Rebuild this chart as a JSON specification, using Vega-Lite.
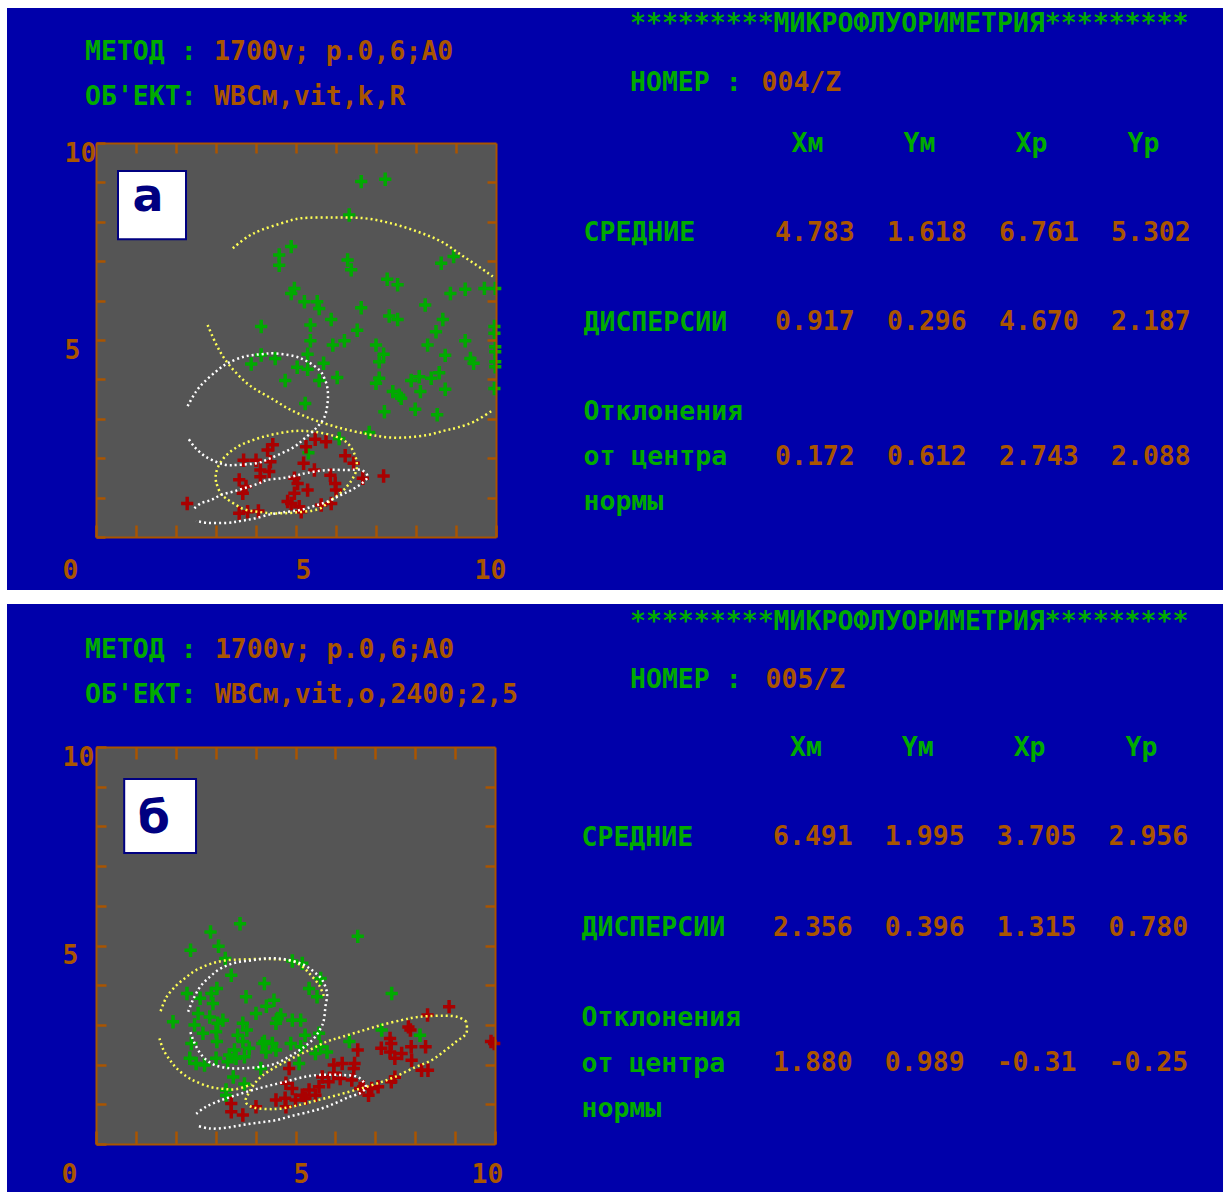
{
  "$schema": "https://vega.github.io/schema/vega-lite/v6.json",
  "background": "#FFFFFF",
  "padding": {"left": 6, "top": 8, "right": 2, "bottom": 0},
  "config": {"view": {"stroke": null}},
  "datasets": {
    "tab_a": [
      {"stat": "СРЕДНИЕ", "var": "Xм", "value": "4.783"},
      {"stat": "СРЕДНИЕ", "var": "Yм", "value": "1.618"},
      {"stat": "СРЕДНИЕ", "var": "Xр", "value": "6.761"},
      {"stat": "СРЕДНИЕ", "var": "Yр", "value": "5.302"},
      {"stat": "ДИСПЕРСИИ", "var": "Xм", "value": "0.917"},
      {"stat": "ДИСПЕРСИИ", "var": "Yм", "value": "0.296"},
      {"stat": "ДИСПЕРСИИ", "var": "Xр", "value": "4.670"},
      {"stat": "ДИСПЕРСИИ", "var": "Yр", "value": "2.187"},
      {"stat": "Отклонения от центра нормы", "var": "Xм", "value": "0.172"},
      {"stat": "Отклонения от центра нормы", "var": "Yм", "value": "0.612"},
      {"stat": "Отклонения от центра нормы", "var": "Xр", "value": "2.743"},
      {"stat": "Отклонения от центра нормы", "var": "Yр", "value": "2.088"}
    ],
    "tab_b": [
      {"stat": "СРЕДНИЕ", "var": "Xм", "value": "6.491"},
      {"stat": "СРЕДНИЕ", "var": "Yм", "value": "1.995"},
      {"stat": "СРЕДНИЕ", "var": "Xр", "value": "3.705"},
      {"stat": "СРЕДНИЕ", "var": "Yр", "value": "2.956"},
      {"stat": "ДИСПЕРСИИ", "var": "Xм", "value": "2.356"},
      {"stat": "ДИСПЕРСИИ", "var": "Yм", "value": "0.396"},
      {"stat": "ДИСПЕРСИИ", "var": "Xр", "value": "1.315"},
      {"stat": "ДИСПЕРСИИ", "var": "Yр", "value": "0.780"},
      {"stat": "Отклонения от центра нормы", "var": "Xм", "value": "1.880"},
      {"stat": "Отклонения от центра нормы", "var": "Yм", "value": "0.989"},
      {"stat": "Отклонения от центра нормы", "var": "Xр", "value": "-0.31"},
      {"stat": "Отклонения от центра нормы", "var": "Yр", "value": "-0.25"}
    ],
    "pts_a": [
      {"class":"A","x":6.63,"y":9.02},{"class":"A","x":7.23,"y":9.08},{"class":"A","x":6.33,"y":8.17},{"class":"A","x":4.88,"y":7.37},
      {"class":"A","x":4.58,"y":7.16},{"class":"A","x":4.58,"y":6.9},{"class":"A","x":6.29,"y":7.03},{"class":"A","x":6.38,"y":6.78},
      {"class":"A","x":8.63,"y":6.95},{"class":"A","x":8.94,"y":7.12},{"class":"A","x":7.28,"y":6.54},{"class":"A","x":7.54,"y":6.4},
      {"class":"A","x":4.96,"y":6.31},{"class":"A","x":4.88,"y":6.18},{"class":"A","x":5.21,"y":5.97},{"class":"A","x":5.53,"y":5.97},
      {"class":"A","x":5.58,"y":5.8},{"class":"A","x":6.63,"y":5.82},{"class":"A","x":8.23,"y":5.89},{"class":"A","x":8.86,"y":6.18},
      {"class":"A","x":9.23,"y":6.29},{"class":"A","x":9.71,"y":6.31},{"class":"A","x":9.98,"y":6.31},{"class":"A","x":4.13,"y":5.34},
      {"class":"A","x":5.36,"y":5.38},{"class":"A","x":5.88,"y":5.52},{"class":"A","x":7.33,"y":5.61},{"class":"A","x":7.54,"y":5.52},
      {"class":"A","x":8.67,"y":5.52},{"class":"A","x":8.5,"y":5.21},{"class":"A","x":6.53,"y":5.25},{"class":"A","x":6.21,"y":4.98},
      {"class":"A","x":5.92,"y":4.87},{"class":"A","x":5.36,"y":4.98},{"class":"A","x":8.29,"y":4.87},{"class":"A","x":9.23,"y":4.98},
      {"class":"A","x":7.0,"y":4.87},{"class":"A","x":7.19,"y":4.64},{"class":"A","x":8.73,"y":4.61},{"class":"A","x":9.36,"y":4.53},
      {"class":"A","x":9.44,"y":4.41},{"class":"A","x":4.13,"y":4.62},{"class":"A","x":4.48,"y":4.53},{"class":"A","x":3.88,"y":4.39},
      {"class":"A","x":5.29,"y":4.64},{"class":"A","x":5.03,"y":4.31},{"class":"A","x":5.29,"y":4.26},{"class":"A","x":5.69,"y":4.41},
      {"class":"A","x":7.08,"y":4.45},{"class":"A","x":7.08,"y":4.03},{"class":"A","x":7.0,"y":3.9},{"class":"A","x":6.03,"y":4.05},
      {"class":"A","x":5.58,"y":3.97},{"class":"A","x":4.73,"y":3.97},{"class":"A","x":7.88,"y":3.97},{"class":"A","x":8.08,"y":4.07},
      {"class":"A","x":8.38,"y":4.03},{"class":"A","x":8.58,"y":4.17},{"class":"A","x":8.11,"y":3.69},{"class":"A","x":8.73,"y":3.75},
      {"class":"A","x":7.42,"y":3.69},{"class":"A","x":7.58,"y":3.6},{"class":"A","x":7.63,"y":3.52},{"class":"A","x":9.96,"y":5.34},
      {"class":"A","x":9.96,"y":5.17},{"class":"A","x":9.98,"y":4.83},{"class":"A","x":9.98,"y":4.7},{"class":"A","x":9.98,"y":4.45},
      {"class":"A","x":9.98,"y":4.32},{"class":"A","x":9.96,"y":3.77},{"class":"A","x":5.23,"y":3.39},{"class":"A","x":7.21,"y":3.18},
      {"class":"A","x":7.98,"y":3.24},{"class":"A","x":8.53,"y":3.1},{"class":"A","x":6.83,"y":2.65},{"class":"A","x":6.08,"y":2.5},
      {"class":"A","x":5.31,"y":2.14},
      {"class":"B","x":2.28,"y":0.85},{"class":"B","x":3.69,"y":1.95},{"class":"B","x":4.0,"y":1.95},{"class":"B","x":4.29,"y":2.21},
      {"class":"B","x":4.42,"y":2.34},{"class":"B","x":4.36,"y":1.91},{"class":"B","x":4.11,"y":1.7},{"class":"B","x":4.33,"y":1.66},
      {"class":"B","x":4.11,"y":1.53},{"class":"B","x":3.58,"y":1.45},{"class":"B","x":3.75,"y":1.28},{"class":"B","x":3.67,"y":1.11},
      {"class":"B","x":3.58,"y":0.6},{"class":"B","x":3.79,"y":0.64},{"class":"B","x":4.06,"y":0.66},{"class":"B","x":4.96,"y":1.49},
      {"class":"B","x":5.19,"y":1.87},{"class":"B","x":5.25,"y":2.29},{"class":"B","x":5.48,"y":2.48},{"class":"B","x":5.75,"y":2.42},
      {"class":"B","x":5.46,"y":1.7},{"class":"B","x":5.04,"y":1.36},{"class":"B","x":5.29,"y":1.19},{"class":"B","x":4.96,"y":1.11},
      {"class":"B","x":4.88,"y":0.85},{"class":"B","x":5.08,"y":0.77},{"class":"B","x":5.13,"y":0.64},{"class":"B","x":5.86,"y":1.57},
      {"class":"B","x":5.98,"y":1.36},{"class":"B","x":6.0,"y":1.19},{"class":"B","x":5.88,"y":0.85},{"class":"B","x":5.63,"y":0.81},
      {"class":"B","x":6.23,"y":2.06},{"class":"B","x":6.44,"y":1.87},{"class":"B","x":6.67,"y":1.49},{"class":"B","x":7.19,"y":1.55},
      {"class":"B","x":4.79,"y":0.9}
    ],
    "pts_b": [
      {"class":"A","x":3.61,"y":5.55},{"class":"A","x":2.87,"y":5.34},{"class":"A","x":3.07,"y":4.98},{"class":"A","x":2.37,"y":4.88},
      {"class":"A","x":3.24,"y":4.67},{"class":"A","x":6.56,"y":5.23},{"class":"A","x":3.39,"y":4.25},{"class":"A","x":4.22,"y":4.04},
      {"class":"A","x":4.92,"y":4.61},{"class":"A","x":5.17,"y":4.55},{"class":"A","x":5.63,"y":4.17},{"class":"A","x":5.34,"y":3.92},
      {"class":"A","x":5.54,"y":3.71},{"class":"A","x":2.28,"y":3.79},{"class":"A","x":2.61,"y":3.67},{"class":"A","x":2.89,"y":3.79},
      {"class":"A","x":3.03,"y":3.92},{"class":"A","x":2.93,"y":3.54},{"class":"A","x":3.76,"y":3.71},{"class":"A","x":4.46,"y":3.62},
      {"class":"A","x":4.27,"y":3.47},{"class":"A","x":4.01,"y":3.29},{"class":"A","x":1.93,"y":3.08},{"class":"A","x":2.56,"y":3.29},
      {"class":"A","x":2.85,"y":3.2},{"class":"A","x":3.05,"y":3.04},{"class":"A","x":3.18,"y":3.12},{"class":"A","x":2.47,"y":3.0},
      {"class":"A","x":2.68,"y":2.79},{"class":"A","x":3.01,"y":2.83},{"class":"A","x":3.03,"y":2.58},{"class":"A","x":2.39,"y":2.53},
      {"class":"A","x":3.68,"y":3.04},{"class":"A","x":3.78,"y":2.87},{"class":"A","x":3.55,"y":2.74},{"class":"A","x":3.68,"y":2.58},
      {"class":"A","x":3.47,"y":2.37},{"class":"A","x":3.84,"y":2.41},{"class":"A","x":4.17,"y":2.53},{"class":"A","x":4.42,"y":2.53},
      {"class":"A","x":4.26,"y":2.32},{"class":"A","x":4.55,"y":3.16},{"class":"A","x":4.63,"y":3.25},{"class":"A","x":4.92,"y":3.12},
      {"class":"A","x":5.13,"y":3.12},{"class":"A","x":4.51,"y":3.04},{"class":"A","x":5.24,"y":2.74},{"class":"A","x":4.88,"y":2.53},
      {"class":"A","x":5.13,"y":2.45},{"class":"A","x":5.59,"y":2.79},{"class":"A","x":5.63,"y":2.45},{"class":"A","x":5.5,"y":2.28},
      {"class":"A","x":5.79,"y":2.32},{"class":"A","x":5.09,"y":2.03},{"class":"A","x":4.51,"y":2.37},{"class":"A","x":3.34,"y":2.24},
      {"class":"A","x":2.35,"y":2.16},{"class":"A","x":2.51,"y":2.03},{"class":"A","x":2.72,"y":1.99},{"class":"A","x":3.01,"y":2.16},
      {"class":"A","x":3.3,"y":2.07},{"class":"A","x":3.51,"y":2.16},{"class":"A","x":3.72,"y":2.2},{"class":"A","x":3.44,"y":1.69},
      {"class":"A","x":3.72,"y":1.51},{"class":"A","x":3.26,"y":1.36},{"class":"A","x":3.26,"y":1.23},{"class":"A","x":6.35,"y":2.58},
      {"class":"A","x":7.16,"y":2.87},{"class":"A","x":7.41,"y":3.79},{"class":"A","x":8.12,"y":2.74},{"class":"A","x":4.13,"y":1.9},
      {"class":"A","x":4.22,"y":2.58},
      {"class":"B","x":8.85,"y":3.46},{"class":"B","x":8.31,"y":3.25},{"class":"B","x":7.88,"y":2.87},{"class":"B","x":7.83,"y":2.95},
      {"class":"B","x":7.37,"y":2.66},{"class":"B","x":7.15,"y":2.41},{"class":"B","x":7.37,"y":2.32},{"class":"B","x":7.49,"y":2.16},
      {"class":"B","x":7.66,"y":2.28},{"class":"B","x":7.9,"y":2.45},{"class":"B","x":7.91,"y":2.11},{"class":"B","x":8.26,"y":2.45},
      {"class":"B","x":8.16,"y":1.86},{"class":"B","x":8.32,"y":1.86},{"class":"B","x":9.9,"y":2.58},{"class":"B","x":9.98,"y":2.53},
      {"class":"B","x":6.56,"y":2.37},{"class":"B","x":6.17,"y":2.03},{"class":"B","x":5.96,"y":1.99},{"class":"B","x":6.46,"y":1.9},
      {"class":"B","x":5.96,"y":1.78},{"class":"B","x":6.12,"y":1.65},{"class":"B","x":6.41,"y":1.61},{"class":"B","x":5.83,"y":1.57},
      {"class":"B","x":5.67,"y":1.69},{"class":"B","x":4.84,"y":1.9},{"class":"B","x":4.76,"y":1.53},{"class":"B","x":4.92,"y":1.4},
      {"class":"B","x":5.34,"y":1.36},{"class":"B","x":5.59,"y":1.44},{"class":"B","x":5.5,"y":1.23},{"class":"B","x":5.25,"y":1.15},
      {"class":"B","x":5.17,"y":1.23},{"class":"B","x":4.51,"y":1.11},{"class":"B","x":4.74,"y":1.15},{"class":"B","x":4.76,"y":0.94},
      {"class":"B","x":4.01,"y":0.94},{"class":"B","x":3.39,"y":1.02},{"class":"B","x":3.39,"y":0.81},{"class":"B","x":3.68,"y":0.73},
      {"class":"B","x":6.62,"y":1.4},{"class":"B","x":6.7,"y":1.44},{"class":"B","x":6.91,"y":1.4},{"class":"B","x":6.83,"y":1.23},
      {"class":"B","x":7.07,"y":1.44},{"class":"B","x":7.4,"y":1.57},{"class":"B","x":7.49,"y":1.68},{"class":"B","x":5.0,"y":1.11},
      {"class":"B","x":6.48,"y":2.03},{"class":"B","x":7.4,"y":2.53}
    ],
    "ell_a": [
      {"seg":"a1","norm":"N1","x":3.42,"y":7.33},{"seg":"a1","norm":"N1","x":3.79,"y":7.62},{"seg":"a1","norm":"N1","x":4.13,"y":7.79},
      {"seg":"a1","norm":"N1","x":4.63,"y":7.96},{"seg":"a1","norm":"N1","x":5.13,"y":8.09},{"seg":"a1","norm":"N1","x":5.96,"y":8.11},
      {"seg":"a1","norm":"N1","x":6.71,"y":8.09},{"seg":"a1","norm":"N1","x":7.38,"y":7.96},{"seg":"a1","norm":"N1","x":8.04,"y":7.75},
      {"seg":"a1","norm":"N1","x":8.63,"y":7.5},{"seg":"a1","norm":"N1","x":9.13,"y":7.16},{"seg":"a1","norm":"N1","x":9.63,"y":6.82},
      {"seg":"a1","norm":"N1","x":9.92,"y":6.61},
      {"seg":"a2","norm":"N1","x":2.79,"y":5.38},{"seg":"a2","norm":"N1","x":3.0,"y":4.9},{"seg":"a2","norm":"N1","x":3.21,"y":4.53},
      {"seg":"a2","norm":"N1","x":3.5,"y":4.17},{"seg":"a2","norm":"N1","x":3.88,"y":3.82},{"seg":"a2","norm":"N1","x":4.38,"y":3.52},
      {"seg":"a2","norm":"N1","x":4.88,"y":3.22},{"seg":"a2","norm":"N1","x":5.46,"y":2.97},{"seg":"a2","norm":"N1","x":6.13,"y":2.76},
      {"seg":"a2","norm":"N1","x":6.79,"y":2.61},{"seg":"a2","norm":"N1","x":7.29,"y":2.53},{"seg":"a2","norm":"N1","x":7.79,"y":2.53},
      {"seg":"a2","norm":"N1","x":8.29,"y":2.59},{"seg":"a2","norm":"N1","x":8.71,"y":2.7},{"seg":"a2","norm":"N1","x":9.04,"y":2.78},
      {"seg":"a2","norm":"N1","x":9.46,"y":2.93},{"seg":"a2","norm":"N1","x":9.92,"y":3.22},
      {"seg":"a3","norm":"N1","x":3.0,"y":1.4},{"seg":"a3","norm":"N1","x":3.0,"y":1.62},{"seg":"a3","norm":"N1","x":3.11,"y":1.89},
      {"seg":"a3","norm":"N1","x":3.33,"y":2.14},{"seg":"a3","norm":"N1","x":3.63,"y":2.34},{"seg":"a3","norm":"N1","x":4.04,"y":2.5},
      {"seg":"a3","norm":"N1","x":4.46,"y":2.61},{"seg":"a3","norm":"N1","x":4.96,"y":2.69},{"seg":"a3","norm":"N1","x":5.46,"y":2.67},
      {"seg":"a3","norm":"N1","x":5.96,"y":2.56},{"seg":"a3","norm":"N1","x":6.29,"y":2.38},{"seg":"a3","norm":"N1","x":6.48,"y":2.06},
      {"seg":"a3","norm":"N1","x":6.52,"y":1.75},{"seg":"a3","norm":"N1","x":6.42,"y":1.49},{"seg":"a3","norm":"N1","x":6.28,"y":1.29},
      {"seg":"a3","norm":"N1","x":6.08,"y":1.09},{"seg":"a3","norm":"N1","x":5.83,"y":0.9},{"seg":"a3","norm":"N1","x":5.54,"y":0.7},
      {"seg":"a3","norm":"N1","x":4.96,"y":0.62},{"seg":"a3","norm":"N1","x":4.46,"y":0.6},{"seg":"a3","norm":"N1","x":4.04,"y":0.64},
      {"seg":"a3","norm":"N1","x":3.71,"y":0.7},{"seg":"a3","norm":"N1","x":3.46,"y":0.84},{"seg":"a3","norm":"N1","x":3.25,"y":0.98},
      {"seg":"a3","norm":"N1","x":3.11,"y":1.11},{"seg":"a3","norm":"N1","x":3.0,"y":1.4},
      {"seg":"a4","norm":"N2","x":2.29,"y":3.32},{"seg":"a4","norm":"N2","x":2.5,"y":3.69},{"seg":"a4","norm":"N2","x":2.71,"y":3.94},
      {"seg":"a4","norm":"N2","x":3.0,"y":4.2},{"seg":"a4","norm":"N2","x":3.29,"y":4.41},{"seg":"a4","norm":"N2","x":3.71,"y":4.58},
      {"seg":"a4","norm":"N2","x":4.13,"y":4.64},{"seg":"a4","norm":"N2","x":4.46,"y":4.66},{"seg":"a4","norm":"N2","x":4.96,"y":4.59},
      {"seg":"a4","norm":"N2","x":5.29,"y":4.45},{"seg":"a4","norm":"N2","x":5.58,"y":4.24},{"seg":"a4","norm":"N2","x":5.71,"y":4.03},
      {"seg":"a4","norm":"N2","x":5.79,"y":3.75},{"seg":"a4","norm":"N2","x":5.79,"y":3.41},{"seg":"a4","norm":"N2","x":5.71,"y":3.04},
      {"seg":"a4","norm":"N2","x":5.5,"y":2.76},{"seg":"a4","norm":"N2","x":5.21,"y":2.5},{"seg":"a4","norm":"N2","x":4.96,"y":2.29},
      {"seg":"a4","norm":"N2","x":4.63,"y":2.12},{"seg":"a4","norm":"N2","x":4.29,"y":1.97},{"seg":"a4","norm":"N2","x":4.0,"y":1.87},
      {"seg":"a4","norm":"N2","x":3.54,"y":1.83},{"seg":"a4","norm":"N2","x":3.25,"y":1.83},{"seg":"a4","norm":"N2","x":3.0,"y":1.91},
      {"seg":"a4","norm":"N2","x":2.71,"y":2.06},{"seg":"a4","norm":"N2","x":2.46,"y":2.29},{"seg":"a4","norm":"N2","x":2.29,"y":2.53},
      {"seg":"a5","norm":"N2","x":2.46,"y":0.73},{"seg":"a5","norm":"N2","x":2.63,"y":0.86},{"seg":"a5","norm":"N2","x":2.88,"y":0.94},
      {"seg":"a5","norm":"N2","x":3.13,"y":1.07},{"seg":"a5","norm":"N2","x":3.42,"y":1.15},{"seg":"a5","norm":"N2","x":3.71,"y":1.24},
      {"seg":"a5","norm":"N2","x":4.04,"y":1.35},{"seg":"a5","norm":"N2","x":4.29,"y":1.45},{"seg":"a5","norm":"N2","x":4.63,"y":1.49},
      {"seg":"a5","norm":"N2","x":4.96,"y":1.55},{"seg":"a5","norm":"N2","x":5.29,"y":1.63},{"seg":"a5","norm":"N2","x":5.79,"y":1.7},
      {"seg":"a5","norm":"N2","x":6.29,"y":1.7},{"seg":"a5","norm":"N2","x":6.63,"y":1.7},{"seg":"a5","norm":"N2","x":6.79,"y":1.53},
      {"seg":"a5","norm":"N2","x":6.63,"y":1.35},{"seg":"a5","norm":"N2","x":6.38,"y":1.19},{"seg":"a5","norm":"N2","x":6.13,"y":1.07},
      {"seg":"a5","norm":"N2","x":5.79,"y":0.9},{"seg":"a5","norm":"N2","x":5.46,"y":0.79},{"seg":"a5","norm":"N2","x":5.13,"y":0.69},
      {"seg":"a5","norm":"N2","x":4.79,"y":0.64},{"seg":"a5","norm":"N2","x":4.38,"y":0.58},{"seg":"a5","norm":"N2","x":3.96,"y":0.47},
      {"seg":"a5","norm":"N2","x":3.63,"y":0.41},{"seg":"a5","norm":"N2","x":3.29,"y":0.36},{"seg":"a5","norm":"N2","x":2.79,"y":0.36},
      {"seg":"a5","norm":"N2","x":2.5,"y":0.41}
    ],
    "ell_b": [
      {"seg":"b1","norm":"N1","x":5.71,"y":3.73},{"seg":"b1","norm":"N1","x":5.59,"y":4.0},{"seg":"b1","norm":"N1","x":5.38,"y":4.26},
      {"seg":"b1","norm":"N1","x":5.17,"y":4.47},{"seg":"b1","norm":"N1","x":4.88,"y":4.62},{"seg":"b1","norm":"N1","x":4.3,"y":4.66},
      {"seg":"b1","norm":"N1","x":3.7,"y":4.65},{"seg":"b1","norm":"N1","x":3.22,"y":4.62},{"seg":"b1","norm":"N1","x":2.85,"y":4.53},
      {"seg":"b1","norm":"N1","x":2.51,"y":4.38},{"seg":"b1","norm":"N1","x":2.27,"y":4.21},{"seg":"b1","norm":"N1","x":2.02,"y":4.0},
      {"seg":"b1","norm":"N1","x":1.8,"y":3.75},{"seg":"b1","norm":"N1","x":1.7,"y":3.56},{"seg":"b1","norm":"N1","x":1.6,"y":3.29},
      {"seg":"b2","norm":"N1","x":1.59,"y":2.66},{"seg":"b2","norm":"N1","x":1.69,"y":2.37},{"seg":"b2","norm":"N1","x":1.85,"y":2.12},
      {"seg":"b2","norm":"N1","x":2.02,"y":1.91},{"seg":"b2","norm":"N1","x":2.27,"y":1.7},{"seg":"b2","norm":"N1","x":2.51,"y":1.57},
      {"seg":"b2","norm":"N1","x":2.85,"y":1.44},{"seg":"b2","norm":"N1","x":3.18,"y":1.39},{"seg":"b2","norm":"N1","x":3.51,"y":1.38},
      {"seg":"b2","norm":"N1","x":3.9,"y":1.5},
      {"seg":"b3","norm":"N1","x":9.28,"y":3.08},{"seg":"b3","norm":"N1","x":9.07,"y":3.2},{"seg":"b3","norm":"N1","x":8.74,"y":3.23},
      {"seg":"b3","norm":"N1","x":8.32,"y":3.22},{"seg":"b3","norm":"N1","x":7.99,"y":3.19},{"seg":"b3","norm":"N1","x":7.66,"y":3.12},
      {"seg":"b3","norm":"N1","x":7.16,"y":3.0},{"seg":"b3","norm":"N1","x":6.66,"y":2.85},{"seg":"b3","norm":"N1","x":6.17,"y":2.7},
      {"seg":"b3","norm":"N1","x":5.79,"y":2.58},{"seg":"b3","norm":"N1","x":5.35,"y":2.37},{"seg":"b3","norm":"N1","x":4.84,"y":2.12},
      {"seg":"b3","norm":"N1","x":4.34,"y":1.84},{"seg":"b3","norm":"N1","x":4.05,"y":1.61},{"seg":"b3","norm":"N1","x":3.85,"y":1.32},
      {"seg":"b3","norm":"N1","x":3.75,"y":1.07},{"seg":"b3","norm":"N1","x":3.95,"y":0.92},{"seg":"b3","norm":"N1","x":4.5,"y":0.88},
      {"seg":"b3","norm":"N1","x":5.0,"y":0.96},{"seg":"b3","norm":"N1","x":5.5,"y":1.09},{"seg":"b3","norm":"N1","x":6.0,"y":1.22},
      {"seg":"b3","norm":"N1","x":6.5,"y":1.36},{"seg":"b3","norm":"N1","x":7.0,"y":1.51},{"seg":"b3","norm":"N1","x":7.49,"y":1.69},
      {"seg":"b3","norm":"N1","x":7.99,"y":1.93},{"seg":"b3","norm":"N1","x":8.41,"y":2.11},{"seg":"b3","norm":"N1","x":8.74,"y":2.35},
      {"seg":"b3","norm":"N1","x":9.03,"y":2.58},{"seg":"b3","norm":"N1","x":9.28,"y":2.79},{"seg":"b3","norm":"N1","x":9.28,"y":3.08},
      {"seg":"b4","norm":"N2","x":2.31,"y":3.33},{"seg":"b4","norm":"N2","x":2.43,"y":3.63},{"seg":"b4","norm":"N2","x":2.61,"y":3.96},
      {"seg":"b4","norm":"N2","x":2.85,"y":4.21},{"seg":"b4","norm":"N2","x":3.14,"y":4.43},{"seg":"b4","norm":"N2","x":3.51,"y":4.57},
      {"seg":"b4","norm":"N2","x":3.93,"y":4.63},{"seg":"b4","norm":"N2","x":4.34,"y":4.68},{"seg":"b4","norm":"N2","x":4.75,"y":4.65},
      {"seg":"b4","norm":"N2","x":5.17,"y":4.53},{"seg":"b4","norm":"N2","x":5.46,"y":4.34},{"seg":"b4","norm":"N2","x":5.67,"y":4.13},
      {"seg":"b4","norm":"N2","x":5.79,"y":3.8},{"seg":"b4","norm":"N2","x":5.75,"y":3.46},{"seg":"b4","norm":"N2","x":5.71,"y":3.12},
      {"seg":"b4","norm":"N2","x":5.63,"y":2.91},{"seg":"b4","norm":"N2","x":5.46,"y":2.66},{"seg":"b4","norm":"N2","x":5.17,"y":2.41},
      {"seg":"b4","norm":"N2","x":4.84,"y":2.2},{"seg":"b4","norm":"N2","x":4.51,"y":2.03},{"seg":"b4","norm":"N2","x":4.17,"y":1.95},
      {"seg":"b4","norm":"N2","x":3.76,"y":1.91},{"seg":"b4","norm":"N2","x":3.35,"y":1.91},{"seg":"b4","norm":"N2","x":2.97,"y":1.99},
      {"seg":"b4","norm":"N2","x":2.68,"y":2.2},{"seg":"b4","norm":"N2","x":2.47,"y":2.54},{"seg":"b4","norm":"N2","x":2.35,"y":2.87},
      {"seg":"b5","norm":"N2","x":2.51,"y":0.76},{"seg":"b5","norm":"N2","x":2.76,"y":0.94},{"seg":"b5","norm":"N2","x":3.1,"y":1.09},
      {"seg":"b5","norm":"N2","x":3.51,"y":1.23},{"seg":"b5","norm":"N2","x":3.93,"y":1.36},{"seg":"b5","norm":"N2","x":4.34,"y":1.47},
      {"seg":"b5","norm":"N2","x":4.75,"y":1.57},{"seg":"b5","norm":"N2","x":5.17,"y":1.68},{"seg":"b5","norm":"N2","x":5.59,"y":1.74},
      {"seg":"b5","norm":"N2","x":6.08,"y":1.74},{"seg":"b5","norm":"N2","x":6.5,"y":1.71},{"seg":"b5","norm":"N2","x":6.68,"y":1.59},
      {"seg":"b5","norm":"N2","x":6.76,"y":1.43},{"seg":"b5","norm":"N2","x":6.62,"y":1.28},{"seg":"b5","norm":"N2","x":6.33,"y":1.18},
      {"seg":"b5","norm":"N2","x":6.0,"y":1.03},{"seg":"b5","norm":"N2","x":5.67,"y":0.9},{"seg":"b5","norm":"N2","x":5.34,"y":0.81},
      {"seg":"b5","norm":"N2","x":4.92,"y":0.71},{"seg":"b5","norm":"N2","x":4.51,"y":0.6},{"seg":"b5","norm":"N2","x":4.09,"y":0.54},
      {"seg":"b5","norm":"N2","x":3.68,"y":0.48},{"seg":"b5","norm":"N2","x":3.26,"y":0.41},{"seg":"b5","norm":"N2","x":2.85,"y":0.39},
      {"seg":"b5","norm":"N2","x":2.51,"y":0.47}
    ]
  },
  "vconcat": [
    {
      "hconcat": [
        {
          "width": 400,
          "height": 394,
          "layer": [
            {
              "data": {"values": [{}]},
              "mark": {"type": "rect", "fill": "#0000AA"},
              "encoding": {
                "x": {"datum": -2.225, "type": "quantitative", "scale": {"domain": [0, 10], "nice": false, "zero": false}, "axis": null},
                "x2": {"datum": 28.175},
                "y": {"datum": 13.426, "type": "quantitative", "scale": {"domain": [0, 10], "nice": false, "zero": false}, "axis": null},
                "y2": {"datum": -1.345}
              }
            },
            {
              "data": {"values": [{}]},
              "mark": {"type": "rect", "fill": "#555555"},
              "encoding": {
                "x": {"datum": 0, "type": "quantitative", "scale": {"domain": [0, 10], "nice": false, "zero": false},
                  "axis": {"orient": "bottom", "values": [0,1,2,3,4,5,6,7,8,9,10], "domain": true, "domainColor": "#AA5500", "domainWidth": 2,
                    "ticks": true, "tickColor": "#AA5500", "tickWidth": 2.5, "tickSize": -12, "grid": false,
                    "labelExpr": "datum.value % 5 === 0 ? datum.label : ''", "labelAlign": "left", "labelBaseline": "middle", "labelPadding": 45,
                    "labelOffset": {"condition": [{"test": "datum.value === 0", "value": -34}, {"test": "datum.value === 10", "value": -22}], "value": -1},
                    "labelColor": "#AA5500", "labelFont": "DejaVu Sans Mono", "labelFontWeight": "bold", "labelFontSize": 26.5, "labelFlush": false, "labelOverlap": false, "labelBound": false,
                    "title": null, "zindex": 1}},
                "x2": {"datum": 10},
                "y": {"datum": 0, "type": "quantitative", "scale": {"domain": [0, 10], "nice": false, "zero": false},
                  "axis": {"orient": "left", "values": [0,1,2,3,4,5,6,7,8,9,10], "domain": true, "domainColor": "#AA5500", "domainWidth": 2,
                    "ticks": true, "tickColor": "#AA5500", "tickWidth": 2.5, "tickSize": -9, "grid": false,
                    "labelExpr": "datum.value === 5 || datum.value === 10 ? datum.label : ''", "labelAlign": "left", "labelBaseline": "middle", "labelPadding": 41,
                    "labelOffset": 10,
                    "labelColor": "#AA5500", "labelFont": "DejaVu Sans Mono", "labelFontWeight": "bold", "labelFontSize": 26.5, "labelFlush": false, "labelOverlap": false, "labelBound": false,
                    "title": null, "zindex": 1}},
                "y2": {"datum": 10}
              }
            },
            {
              "data": {"name": "pts_a"},
              "mark": {"type": "point", "shape": "M-1,0L1,0M0,-1.1L0,1.1", "filled": false, "size": 150, "strokeWidth": 3.5, "opacity": 1},
              "encoding": {
                "x": {"field": "x", "type": "quantitative", "scale": {"domain": [0, 10], "nice": false, "zero": false},
                  "axis": {"orient": "top", "values": [1,2,3,4,5,6,7,8,9], "domain": true, "domainColor": "#AA5500", "domainWidth": 2,
                    "ticks": true, "tickColor": "#AA5500", "tickWidth": 2.5, "tickSize": -10, "grid": false, "labels": false, "title": null, "zindex": 1}},
                "y": {"field": "y", "type": "quantitative", "scale": {"domain": [0, 10], "nice": false, "zero": false},
                  "axis": {"orient": "right", "values": [1,2,3,4,5,6,7,8,9], "domain": true, "domainColor": "#AA5500", "domainWidth": 2,
                    "ticks": true, "tickColor": "#AA5500", "tickWidth": 2.5, "tickSize": -9, "grid": false, "labels": false, "title": null, "zindex": 1}},
                "color": {"field": "class", "type": "nominal", "scale": {"domain": ["A", "B"], "range": ["#00AA00", "#AA0000"]}, "legend": null}
              }
            },
            {
              "data": {"name": "ell_a"},
              "mark": {"type": "line", "strokeWidth": 2.5, "strokeDash": [2, 3], "interpolate": "cardinal"},
              "encoding": {
                "x": {"field": "x", "type": "quantitative", "scale": {"domain": [0, 10], "nice": false, "zero": false}, "axis": null},
                "y": {"field": "y", "type": "quantitative", "scale": {"domain": [0, 10], "nice": false, "zero": false}, "axis": null},
                "detail": {"field": "seg", "type": "nominal"},
                "stroke": {"field": "norm", "type": "nominal", "scale": {"domain": ["N1", "N2"], "range": ["#FFFF55", "#FFFFFF"]}, "legend": null},
                "order": {"value": null}
              }
            },
            {
              "data": {"values": [{"label": "а"}]},
              "mark": {"type": "rect", "fill": "#FFFFFF", "stroke": "#000080", "strokeWidth": 2},
              "encoding": {
                "x": {"datum": 0.55, "type": "quantitative", "scale": {"domain": [0, 10], "nice": false, "zero": false}, "axis": null},
                "x2": {"datum": 2.25},
                "y": {"datum": 9.29, "type": "quantitative", "scale": {"domain": [0, 10], "nice": false, "zero": false}, "axis": null},
                "y2": {"datum": 7.56}
              }
            },
            {
              "data": {"values": [{"label": "а"}]},
              "mark": {"type": "text", "font": "DejaVu Sans", "fontWeight": "bold", "fontSize": 46, "color": "#000080", "align": "center", "baseline": "middle"},
              "encoding": {
                "x": {"datum": 1.3, "type": "quantitative", "scale": {"domain": [0, 10], "nice": false, "zero": false}, "axis": null},
                "y": {"datum": 8.62, "type": "quantitative", "scale": {"domain": [0, 10], "nice": false, "zero": false}, "axis": null},
                "text": {"field": "label", "type": "nominal"}
              }
            },
            {
              "data": {"values": [{}]},
              "mark": {"type": "text", "font": "DejaVu Sans Mono", "fontWeight": "bold", "fontSize": 26.5, "color": "#00AA00", "align": "left", "baseline": "top", "lineHeight": 45},
              "encoding": {
                "x": {"datum": -0.275, "type": "quantitative", "scale": {"domain": [0, 10], "nice": false, "zero": false}, "axis": null},
                "y": {"datum": 12.647, "type": "quantitative", "scale": {"domain": [0, 10], "nice": false, "zero": false}, "axis": null},
                "text": {"value": ["МЕТОД :", "ОБ'ЕКТ:"]}
              }
            },
            {
              "data": {"values": [{}]},
              "mark": {"type": "text", "font": "DejaVu Sans Mono", "fontWeight": "bold", "fontSize": 26.5, "color": "#AA5500", "align": "left", "baseline": "top", "lineHeight": 45},
              "encoding": {
                "x": {"datum": 2.95, "type": "quantitative", "scale": {"domain": [0, 10], "nice": false, "zero": false}, "axis": null},
                "y": {"datum": 12.647, "type": "quantitative", "scale": {"domain": [0, 10], "nice": false, "zero": false}, "axis": null},
                "text": {"value": ["1700v; p.0,6;A0", "WBCм,vit,k,R"]}
              }
            }
          ],
          "resolve": {"axis": {"x": "independent", "y": "independent"}}
        },
        {
          "width": 336,
          "height": 313.6,
          "data": {"name": "tab_a"},
          "title": {
            "text": ["*********МИКРОФЛУОРИМЕТРИЯ*********", "НОМЕР :"],
            "anchor": "start", "frame": "group", "align": "left", "baseline": "top", "dx": -145, "offset": -26.5,
            "font": "DejaVu Sans Mono", "fontSize": 26.5, "fontWeight": "bold", "color": "#00AA00", "lineHeight": 59, "limit": 2000
          },
          "mark": {"type": "text", "align": "left", "baseline": "middle", "font": "DejaVu Sans Mono", "fontWeight": "bold", "fontSize": 26.5, "color": "#AA5500"},
          "encoding": {
            "x": {"field": "var", "type": "nominal", "scale": {"type": "point", "domain": ["Xм", "Yм", "Xр", "Yр"], "padding": 0},
              "axis": {"orient": "top", "domain": false, "ticks": false, "grid": false, "labelPadding": 0, "labelOffset": 16, "labelAlign": "left",
                "labelBaseline": "middle", "labelAngle": 0, "labelColor": "#00AA00", "labelFont": "DejaVu Sans Mono", "labelFontWeight": "bold", "labelFontSize": 26.5,
                "labelLimit": 0, "labelOverlap": false,
                "title": "004/Z", "titleColor": "#AA5500", "titleFont": "DejaVu Sans Mono", "titleFontSize": 26.5, "titleFontWeight": "bold",
                "titleAlign": "left", "titleBaseline": "middle", "titleAngle": 0, "titleX": -14, "titleY": -60.3, "zindex": 1}},
            "y": {"field": "stat", "type": "nominal",
              "scale": {"type": "point", "domain": ["·a", "·b", "СРЕДНИЕ", "·1", "ДИСПЕРСИИ", "·2", "·3", "Отклонения от центра нормы"], "padding": 0},
              "axis": {"orient": "left", "values": ["СРЕДНИЕ", "ДИСПЕРСИИ", "Отклонения от центра нормы"],
                "labelExpr": "datum.value === 'Отклонения от центра нормы' ? ['Отклонения', 'от центра', 'нормы'] : datum.label",
                "labelLineHeight": 45,
                "labelOffset": {"condition": {"test": "datum.value === 'Отклонения от центра нормы'", "value": -45}, "value": 0},
                "domain": false, "ticks": false, "grid": false, "labelPadding": 192, "labelAlign": "left", "labelBaseline": "middle",
                "labelColor": "#00AA00", "labelFont": "DejaVu Sans Mono", "labelFontWeight": "bold", "labelFontSize": 26.5, "labelLimit": 0, "labelOverlap": false, "title": null, "zindex": 1}},
            "text": {"field": "value", "type": "nominal"}
          }
        }
      ],
      "spacing": 279,
      "bounds": "flush"
    },
    {
      "hconcat": [
        {
          "width": 399,
          "height": 397,
          "layer": [
            {
              "data": {"values": [{}]},
              "mark": {"type": "rect", "fill": "#0000AA"},
              "encoding": {
                "x": {"datum": -2.2306, "type": "quantitative", "scale": {"domain": [0, 10], "nice": false, "zero": false}, "axis": null},
                "x2": {"datum": 28.246},
                "y": {"datum": 13.602, "type": "quantitative", "scale": {"domain": [0, 10], "nice": false, "zero": false}, "axis": null},
                "y2": {"datum": -1.209}
              }
            },
            {
              "data": {"values": [{}]},
              "mark": {"type": "rect", "fill": "#555555"},
              "encoding": {
                "x": {"datum": 0, "type": "quantitative", "scale": {"domain": [0, 10], "nice": false, "zero": false},
                  "axis": {"orient": "bottom", "values": [0,1,2,3,4,5,6,7,8,9,10], "domain": true, "domainColor": "#AA5500", "domainWidth": 2,
                    "ticks": true, "tickColor": "#AA5500", "tickWidth": 2.5, "tickSize": -13, "grid": false,
                    "labelExpr": "datum.value % 5 === 0 ? datum.label : ''", "labelAlign": "left", "labelBaseline": "middle", "labelPadding": 43.7,
                    "labelOffset": {"condition": [{"test": "datum.value === 0", "value": -35}, {"test": "datum.value === 10", "value": -24}], "value": -2.5},
                    "labelColor": "#AA5500", "labelFont": "DejaVu Sans Mono", "labelFontWeight": "bold", "labelFontSize": 26.5, "labelFlush": false, "labelOverlap": false, "labelBound": false,
                    "title": null, "zindex": 1}},
                "x2": {"datum": 10},
                "y": {"datum": 0, "type": "quantitative", "scale": {"domain": [0, 10], "nice": false, "zero": false},
                  "axis": {"orient": "left", "values": [0,1,2,3,4,5,6,7,8,9,10], "domain": true, "domainColor": "#AA5500", "domainWidth": 2,
                    "ticks": true, "tickColor": "#AA5500", "tickWidth": 2.5, "tickSize": -10, "grid": false,
                    "labelExpr": "datum.value === 5 || datum.value === 10 ? datum.label : ''", "labelAlign": "left", "labelBaseline": "middle", "labelPadding": 44,
                    "labelOffset": 10,
                    "labelColor": "#AA5500", "labelFont": "DejaVu Sans Mono", "labelFontWeight": "bold", "labelFontSize": 26.5, "labelFlush": false, "labelOverlap": false, "labelBound": false,
                    "title": null, "zindex": 1}},
                "y2": {"datum": 10}
              }
            },
            {
              "data": {"name": "pts_b"},
              "mark": {"type": "point", "shape": "M-1,0L1,0M0,-1.1L0,1.1", "filled": false, "size": 150, "strokeWidth": 3.5, "opacity": 1},
              "encoding": {
                "x": {"field": "x", "type": "quantitative", "scale": {"domain": [0, 10], "nice": false, "zero": false},
                  "axis": {"orient": "top", "values": [1,2,3,4,5,6,7,8,9], "domain": true, "domainColor": "#AA5500", "domainWidth": 2,
                    "ticks": true, "tickColor": "#AA5500", "tickWidth": 2.5, "tickSize": -12, "grid": false, "labels": false, "title": null, "zindex": 1}},
                "y": {"field": "y", "type": "quantitative", "scale": {"domain": [0, 10], "nice": false, "zero": false},
                  "axis": {"orient": "right", "values": [1,2,3,4,5,6,7,8,9], "domain": true, "domainColor": "#AA5500", "domainWidth": 2,
                    "ticks": true, "tickColor": "#AA5500", "tickWidth": 2.5, "tickSize": -10, "grid": false, "labels": false, "title": null, "zindex": 1}},
                "color": {"field": "class", "type": "nominal", "scale": {"domain": ["A", "B"], "range": ["#00AA00", "#AA0000"]}, "legend": null}
              }
            },
            {
              "data": {"name": "ell_b"},
              "mark": {"type": "line", "strokeWidth": 2.5, "strokeDash": [2, 3], "interpolate": "cardinal"},
              "encoding": {
                "x": {"field": "x", "type": "quantitative", "scale": {"domain": [0, 10], "nice": false, "zero": false}, "axis": null},
                "y": {"field": "y", "type": "quantitative", "scale": {"domain": [0, 10], "nice": false, "zero": false}, "axis": null},
                "detail": {"field": "seg", "type": "nominal"},
                "stroke": {"field": "norm", "type": "nominal", "scale": {"domain": ["N1", "N2"], "range": ["#FFFF55", "#FFFFFF"]}, "legend": null},
                "order": {"value": null}
              }
            },
            {
              "data": {"values": [{"label": "б"}]},
              "mark": {"type": "rect", "fill": "#FFFFFF", "stroke": "#000080", "strokeWidth": 2},
              "encoding": {
                "x": {"datum": 0.707, "type": "quantitative", "scale": {"domain": [0, 10], "nice": false, "zero": false}, "axis": null},
                "x2": {"datum": 2.507},
                "y": {"datum": 9.194, "type": "quantitative", "scale": {"domain": [0, 10], "nice": false, "zero": false}, "axis": null},
                "y2": {"datum": 7.33}
              }
            },
            {
              "data": {"values": [{"label": "б"}]},
              "mark": {"type": "text", "font": "DejaVu Sans", "fontWeight": "bold", "fontSize": 46, "color": "#000080", "align": "center", "baseline": "middle"},
              "encoding": {
                "x": {"datum": 1.447, "type": "quantitative", "scale": {"domain": [0, 10], "nice": false, "zero": false}, "axis": null},
                "y": {"datum": 8.19, "type": "quantitative", "scale": {"domain": [0, 10], "nice": false, "zero": false}, "axis": null},
                "text": {"field": "label", "type": "nominal"}
              }
            },
            {
              "data": {"values": [{}]},
              "mark": {"type": "text", "font": "DejaVu Sans Mono", "fontWeight": "bold", "fontSize": 26.5, "color": "#00AA00", "align": "left", "baseline": "top", "lineHeight": 45},
              "encoding": {
                "x": {"datum": -0.276, "type": "quantitative", "scale": {"domain": [0, 10], "nice": false, "zero": false}, "axis": null},
                "y": {"datum": 12.778, "type": "quantitative", "scale": {"domain": [0, 10], "nice": false, "zero": false}, "axis": null},
                "text": {"value": ["МЕТОД :", "ОБ'ЕКТ:"]}
              }
            },
            {
              "data": {"values": [{}]},
              "mark": {"type": "text", "font": "DejaVu Sans Mono", "fontWeight": "bold", "fontSize": 26.5, "color": "#AA5500", "align": "left", "baseline": "top", "lineHeight": 45},
              "encoding": {
                "x": {"datum": 2.98, "type": "quantitative", "scale": {"domain": [0, 10], "nice": false, "zero": false}, "axis": null},
                "y": {"datum": 12.778, "type": "quantitative", "scale": {"domain": [0, 10], "nice": false, "zero": false}, "axis": null},
                "text": {"value": ["1700v; p.0,6;A0", "WBCм,vit,o,2400;2,5"]}
              }
            }
          ],
          "resolve": {"axis": {"x": "independent", "y": "independent"}}
        },
        {
          "width": 335.5,
          "height": 316.4,
          "data": {"name": "tab_b"},
          "title": {
            "text": ["*********МИКРОФЛУОРИМЕТРИЯ*********", "НОМЕР :"],
            "anchor": "start", "frame": "group", "align": "left", "baseline": "top", "dx": -143, "offset": -26.5,
            "font": "DejaVu Sans Mono", "fontSize": 26.5, "fontWeight": "bold", "color": "#00AA00", "lineHeight": 58, "limit": 2000
          },
          "mark": {"type": "text", "align": "left", "baseline": "middle", "font": "DejaVu Sans Mono", "fontWeight": "bold", "fontSize": 26.5, "color": "#AA5500"},
          "encoding": {
            "x": {"field": "var", "type": "nominal", "scale": {"type": "point", "domain": ["Xм", "Yм", "Xр", "Yр"], "padding": 0},
              "axis": {"orient": "top", "domain": false, "ticks": false, "grid": false, "labelPadding": 0, "labelOffset": 16.5, "labelAlign": "left",
                "labelBaseline": "middle", "labelAngle": 0, "labelColor": "#00AA00", "labelFont": "DejaVu Sans Mono", "labelFontWeight": "bold", "labelFontSize": 26.5,
                "labelLimit": 0, "labelOverlap": false,
                "title": "005/Z", "titleColor": "#AA5500", "titleFont": "DejaVu Sans Mono", "titleFontSize": 26.5, "titleFontWeight": "bold",
                "titleAlign": "left", "titleBaseline": "middle", "titleAngle": 0, "titleX": -8, "titleY": -67.3, "zindex": 1}},
            "y": {"field": "stat", "type": "nominal",
              "scale": {"type": "point", "domain": ["·a", "·b", "СРЕДНИЕ", "·1", "ДИСПЕРСИИ", "·2", "·3", "Отклонения от центра нормы"], "padding": 0},
              "axis": {"orient": "left", "values": ["СРЕДНИЕ", "ДИСПЕРСИИ", "Отклонения от центра нормы"],
                "labelExpr": "datum.value === 'Отклонения от центра нормы' ? ['Отклонения', 'от центра', 'нормы'] : datum.label",
                "labelLineHeight": 45.5,
                "labelOffset": {"condition": {"test": "datum.value === 'Отклонения от центра нормы'", "value": -45.5}, "value": 0},
                "domain": false, "ticks": false, "grid": false, "labelPadding": 192, "labelAlign": "left", "labelBaseline": "middle",
                "labelColor": "#00AA00", "labelFont": "DejaVu Sans Mono", "labelFontWeight": "bold", "labelFontSize": 26.5, "labelLimit": 0, "labelOverlap": false, "title": null, "zindex": 1}},
            "text": {"field": "value", "type": "nominal"}
          }
        }
      ],
      "spacing": 278,
      "bounds": "flush"
    }
  ],
  "spacing": 14
}
